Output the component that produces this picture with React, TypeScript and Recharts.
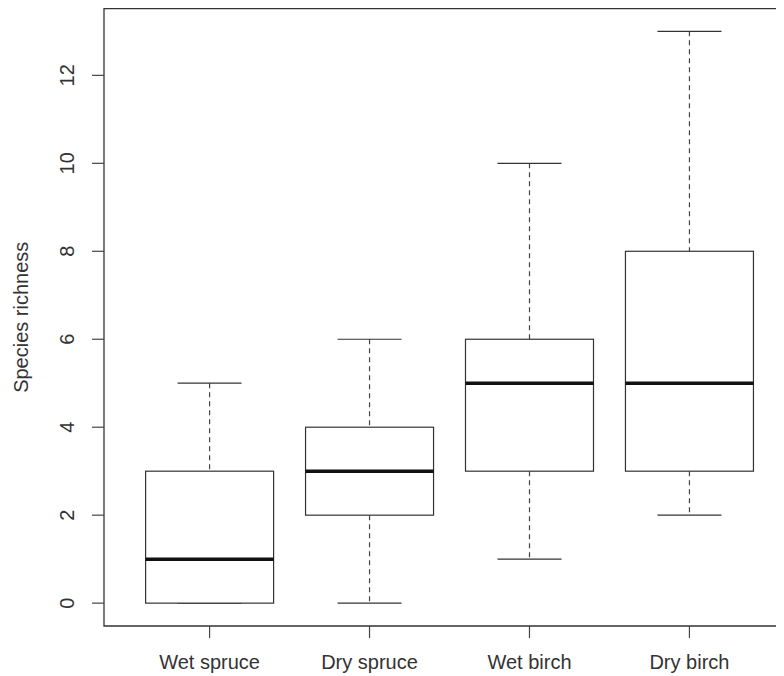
import React from 'react';
import { ComposedChart, Bar, XAxis, YAxis, ReferenceArea, Label } from 'recharts';

const categories = ['Wet spruce', 'Dry spruce', 'Wet birch', 'Dry birch'];
const minValues = [0, 0, 1, 2];
const q1Values = [0, 2, 3, 3];
const medianValues = [1, 3, 5, 5];
const q3Values = [3, 4, 6, 8];
const maxValues = [5, 6, 10, 13];
const yTicks = [0, 2, 4, 6, 8, 10, 12];
const xTicks = [1, 2, 3, 4];
const xDomain: [number, number] = [0.34, 4.66];
const yDomain: [number, number] = [-0.52, 13.52];

const data = categories.map((name, i) => ({
  pos: i + 1,
  name,
  range: [minValues[i], maxValues[i]],
  min: minValues[i],
  q1: q1Values[i],
  median: medianValues[i],
  q3: q3Values[i],
  max: maxValues[i],
}));

const FONT = '"Liberation Sans", Arial, Helvetica, sans-serif';
const FS = 20;

const BoxShape = (props: any) => {
  const { x, y, width, height, index } = props;
  const d = props.payload && props.payload.q1 !== undefined ? props.payload : data[index];
  const top = Math.min(y, y + height);
  const h = Math.abs(height);
  const py = (v: number) => top + ((d.max - v) / (d.max - d.min)) * h;
  const cx = x + width / 2;
  const half = width / 2;
  const capHalf = width / 4;
  const stroke = '#333';
  return (
    <g>
      <line x1={cx} x2={cx} y1={py(d.max)} y2={py(d.q3)} stroke="#444" strokeWidth={1.2} strokeDasharray="5 4" />
      <line x1={cx} x2={cx} y1={py(d.q1)} y2={py(d.min)} stroke="#444" strokeWidth={1.2} strokeDasharray="5 4" />
      <line x1={cx - capHalf} x2={cx + capHalf} y1={py(d.max)} y2={py(d.max)} stroke={stroke} strokeWidth={1.2} />
      <line x1={cx - capHalf} x2={cx + capHalf} y1={py(d.min)} y2={py(d.min)} stroke={stroke} strokeWidth={1.2} />
      <rect x={cx - half} y={py(d.q3)} width={width} height={py(d.q1) - py(d.q3)} fill="#fff" stroke={stroke} strokeWidth={1.2} />
      <line x1={cx - half} x2={cx + half} y1={py(d.median)} y2={py(d.median)} stroke="#111" strokeWidth={3.5} />
    </g>
  );
};

const YTick = (props: any) => {
  const { x, y, payload } = props;
  return (
    <text
      transform={`translate(${x - 23},${y}) rotate(-90)`}
      textAnchor="middle"
      dominantBaseline="central"
      fontSize={FS}
      fontFamily={FONT}
      fill="#333"
    >
      {payload.value}
    </text>
  );
};

const XTick = (props: any) => {
  const { x, payload } = props;
  return (
    <text x={x} y={661} textAnchor="middle" fontSize={FS} fontFamily={FONT} fill="#333">
      {categories[payload.value - 1]}
    </text>
  );
};

const YLabel = (props: any) => {
  const vb = props.viewBox || { y: 0, height: 618 };
  const cy = vb.y + vb.height / 2;
  return (
    <text
      transform={`translate(12.5,${cy}) rotate(-90)`}
      textAnchor="middle"
      dominantBaseline="central"
      fontSize={FS}
      fontFamily={FONT}
      fill="#333"
    >
      Species richness
    </text>
  );
};

export default function App() {
  return (
    <div style={{ width: 776, height: 668, overflow: 'hidden', background: '#fff' }}>
      <ComposedChart
        width={800}
        height={668}
        data={data}
        margin={{ top: 0.5, right: 13, left: 0, bottom: 0 }}
      >
        <XAxis
          dataKey="pos"
          type="number"
          domain={xDomain}
          ticks={xTicks}
          allowDataOverflow
          height={50}
          tickSize={12}
          tickLine={{ stroke: '#444', strokeWidth: 1.2 }}
          axisLine={false}
          tick={<XTick />}
          interval={0}
        />
        <YAxis
          type="number"
          domain={yDomain}
          ticks={yTicks}
          allowDataOverflow
          width={96}
          tickSize={12}
          tickLine={{ stroke: '#444', strokeWidth: 1.2 }}
          axisLine={false}
          tick={<YTick />}
          interval={0}
        >
          <Label content={<YLabel />} />
        </YAxis>
        <ReferenceArea
          x1={xDomain[0]}
          x2={xDomain[1]}
          y1={yDomain[0]}
          y2={yDomain[1]}
          fill="none"
          fillOpacity={0}
          stroke="#333"
          strokeWidth={1.3}
          ifOverflow="visible"
        />
        <Bar dataKey="range" barSize={128} shape={<BoxShape />} isAnimationActive={false} />
      </ComposedChart>
    </div>
  );
}
